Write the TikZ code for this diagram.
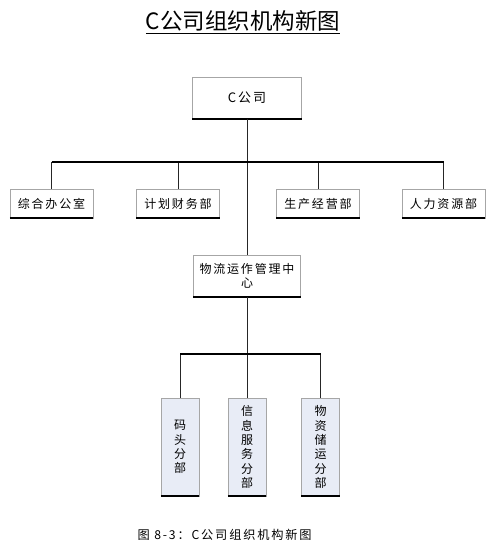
\documentclass[tikz,border=0pt]{standalone}
\usepackage{fontspec}
\setmainfont{Noto Sans CJK SC}
\newfontfamily\spaced[LetterSpace=15]{Noto Sans CJK SC}
\usetikzlibrary{positioning}
\definecolor{boxfill}{HTML}{E8ECF6}
\definecolor{boxline}{HTML}{A6A6A6}

\begin{document}
\begin{tikzpicture}[x=1pt, y=-1pt,
    unit/.style={draw=boxline, fill=white, inner sep=0pt, font=\spaced\fontsize{12}{14.3}\selectfont},
    dept/.style={unit, minimum width=83pt, minimum height=29pt},
    subdept/.style={unit, fill=boxfill, minimum width=38pt, minimum height=98pt, align=center},
    link/.style={draw=black!85, line width=0.8pt},
    bar/.style={draw=black, line width=2pt},
    base/.style={draw=black, line width=2pt}]

    \useasboundingbox (0,0) rectangle (494,544);

    \node (title) at (243,22) {\fontsize{22.5}{22}\selectfont\underline{C公司组织机构新图}};

    \node[unit, minimum width=109pt, minimum height=41pt, font=\spaced\fontsize{13}{13}\selectfont] (corp) at (247,98) {C公司};

    \node[dept] (zhb) at (51.5,203.5) {综合办公室};
    \node[dept] (jhb) at (178,203.5) {计划财务部};
    \node[dept] (scb) at (318,203.5) {生产经营部};
    \node[dept] (rlb) at (443.5,203.5) {人力资源部};

    \node[unit, align=center, minimum width=107pt, minimum height=42pt] (wl) at (247,276) {物流运作管理中\\心};

    \node[subdept] (mt) at (180,447) {码\\头\\分\\部};
    \node[subdept] (xx) at (247,447) {信\\息\\服\\务\\分\\部};
    \node[subdept] (wz) at (320.5,447) {物\\资\\储\\运\\分\\部};

    % dark lower edges
    \foreach \n in {corp,zhb,jhb,scb,rlb,wl,mt,xx,wz}
        \draw[base] (\n.south west) -- (\n.south east);

    \coordinate (bar1) at (247,162);
    \coordinate (bar2) at (247,354);

    \draw[link] (corp.south) -- (wl.north);
    \draw[link] (wl.south) -- (xx.north);
    \foreach \n in {zhb,jhb,scb,rlb}
        \draw[link] (\n.north) -- (\n.north |- bar1);
    \foreach \n in {mt,wz}
        \draw[link] (\n.north) -- (\n.north |- bar2);
    \draw[bar] (zhb.north |- bar1) -- (rlb.north |- bar1);
    \draw[bar] (mt.north |- bar2) -- (wz.north |- bar2);

    \node[anchor=west, font=\spaced\fontsize{12.2}{12}\selectfont] (caption) at (134,535) {图 8-3：C公司组织机构新图};
\end{tikzpicture}
\end{document}
